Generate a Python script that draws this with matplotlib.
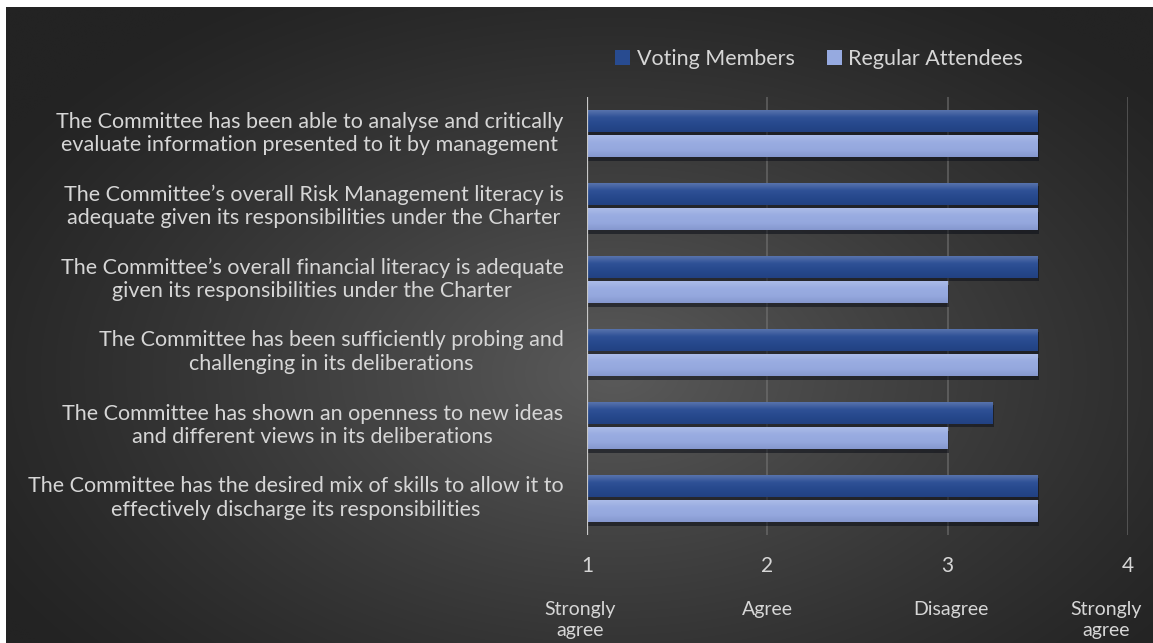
import numpy as np
import matplotlib
matplotlib.use("Agg")
import matplotlib.pyplot as plt
from matplotlib.patches import Patch
from matplotlib.colors import LinearSegmentedColormap
from matplotlib.transforms import ScaledTranslation

# --- data -------------------------------------------------------------
statements = [
    "The Committee has been able to analyse and critically\nevaluate information presented to it by management",
    "The Committee\u2019s overall Risk Management literacy is\nadequate given its responsibilities under the Charter",
    "The Committee\u2019s overall financial literacy is adequate\ngiven its responsibilities under the Charter",
    "The Committee has been sufficiently probing and\nchallenging in its deliberations",
    "The Committee has shown an openness to new ideas\nand different views in its deliberations",
    "The Committee has the desired mix of skills to allow it to\neffectively discharge its responsibilities",
]
voting_members = [3.5, 3.5, 3.5, 3.5, 3.25, 3.5]
regular_attendees = [3.5, 3.5, 3.0, 3.5, 3.0, 3.5]
series_names = ["Voting Members", "Regular Attendees"]
scale_ticks = [1, 2, 3, 4]
scale_labels = ["Strongly\nagree", "Agree", "Disagree", "Strongly\nagree"]

# --- styling ----------------------------------------------------------
FONT = "Lato"
TXT = "#d6d6d6"
DARK_BLUE = "#284b90"
LIGHT_BLUE = "#96aae0"

W, H = 1153, 643
fig = plt.figure(figsize=(W / 100, H / 100), dpi=100, facecolor="white")

# radial grey background
bg = fig.add_axes([6 / W, 0, 1 - 6 / W, 1 - 7 / H])
bg.set_axis_off()
yy, xx = np.mgrid[0:H, 0:W]
r = np.sqrt(((xx - 610) / 720.0) ** 2 + ((yy - 370) / 450.0) ** 2)
r = np.clip(r, 0, 1)
val = 0x23 + (0x5a - 0x23) * (1 - r) ** 1.2
img = np.dstack([val, val, val]) / 255.0
bg.imshow(img, aspect="auto", extent=[0, 1, 0, 1], origin="upper")
bg.set_xlim(0, 1)
bg.set_ylim(0, 1)

# main plot
ax = fig.add_axes([587 / W, 1 - 535 / H, 541 / W, 438 / H])
ax.patch.set_alpha(0)
n = len(statements)
ypos = np.arange(n)
bh = 0.30
off = 0.177

dark_cmap = LinearSegmentedColormap.from_list(
    "dk", ["#5873ad", "#2f5196", "#26488c", "#224182"])
light_cmap = LinearSegmentedColormap.from_list(
    "lt", ["#abbbe8", "#99ace1", "#95a8de", "#8698cf"])

def draw_series(values, yc, base, cmap):
    for v, y in zip(values, yc):
        # soft drop shadow
        ax.barh(y + 0.045, v - 1, height=bh, left=1.0 + 0.006, color="#0c0f18",
                alpha=0.55, zorder=2, linewidth=0)
        bar = ax.barh(y, v - 1, height=bh, left=1.0, color=base,
                      zorder=3, linewidth=0)[0]
        grad = np.linspace(0, 1, 64).reshape(-1, 1)
        im = ax.imshow(grad, cmap=cmap, aspect="auto", zorder=4,
                       extent=[1.0, v, y + bh / 2, y - bh / 2], origin="upper",
                       interpolation="bilinear")
        im.set_clip_path(bar)

draw_series(voting_members, ypos - off, DARK_BLUE, dark_cmap)
draw_series(regular_attendees, ypos + off, LIGHT_BLUE, light_cmap)

ax.set_xlim(1, 4)
ax.set_ylim(n - 0.5, -0.5)
ax.set_aspect("auto")

# gridlines
for t in scale_ticks[1:]:
    ax.axvline(t, color="#7a7a7a", lw=1.2, alpha=0.6, zorder=1)
ax.axvline(1, color="#c8c8c8", lw=1.6, zorder=5)

for s in ax.spines.values():
    s.set_visible(False)
ax.set_xticks(scale_ticks)
ax.set_xticklabels([str(t) for t in scale_ticks], fontfamily=FONT,
                   fontsize=15, color=TXT)
ax.tick_params(axis="x", length=0, pad=15)
ax.set_yticks(ypos)
ax.set_yticklabels(statements, fontfamily=FONT, fontsize=15.5, color=TXT,
                   multialignment="center", linespacing=1.22)
ax.tick_params(axis="y", length=0, pad=17)
shift_up = ScaledTranslation(0, 0.04, fig.dpi_scale_trans)
for lbl in ax.get_yticklabels():
    lbl.set_transform(lbl.get_transform() + shift_up)

# verbal scale under the numbers
label_x = [0.96, 2.0, 3.02, 3.88]
for lx, lab in zip(label_x, scale_labels):
    ax.text(lx, -0.15, lab, transform=ax.get_xaxis_transform(), ha="center",
            va="top", fontfamily=FONT, fontsize=14, color=TXT,
            linespacing=1.32, clip_on=False)

handles = [Patch(facecolor=DARK_BLUE, edgecolor="none"),
           Patch(facecolor=LIGHT_BLUE, edgecolor="none")]
leg = fig.legend(handles, series_names, loc="center",
                 bbox_to_anchor=(819 / W, 1 - 59 / H), ncol=2, frameon=False,
                 handlelength=0.7, handleheight=0.7, handletextpad=0.3,
                 columnspacing=1.5, prop={"family": FONT, "size": 15.5})
for t in leg.get_texts():
    t.set_color(TXT)

fig.savefig("out.png", dpi=100, facecolor=fig.get_facecolor())
